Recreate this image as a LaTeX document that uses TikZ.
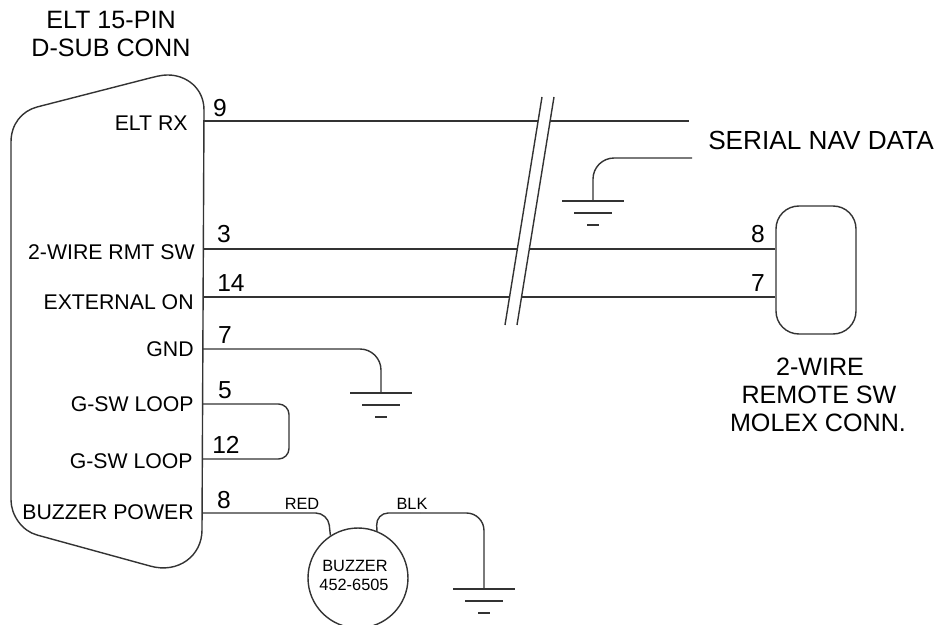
\documentclass[tikz,border=0pt]{standalone}
\usepackage{fontspec}
\setmainfont{Liberation Sans}
\usepackage{tikz}
\usetikzlibrary{calc}
\definecolor{trait}{HTML}{333333}
\tikzset{wire/.style={
    draw=trait,
    line width=0.8pt}}
\tikzset{bentwire/.style={
    wire,
    rounded corners=12pt}}
\tikzset{pinname/.style={
    anchor=east,
    inner sep=0pt,
    font=\fontsize{12.1}{14}\selectfont}}
\tikzset{pinnum/.style={
    inner sep=0pt,
    font=\fontsize{14}{16}\selectfont}}
\tikzset{title/.style={
    inner sep=0pt,
    font=\fontsize{14.3}{16}\selectfont}}
\tikzset{small/.style={
    inner sep=0pt,
    font=\fontsize{9.3}{11}\selectfont}}
\newcommand{\groundsym}[1]{
  \draw[wire] ($(#1)+(-31,0)$) -- ($(#1)+(31,0)$);
  \draw[wire] ($(#1)+(-19,12)$) -- ($(#1)+(19,12)$);
  \draw[wire] ($(#1)+(-6,24)$) -- ($(#1)+(6,24)$);
}

\begin{document}
\begin{tikzpicture}[x=0.02cm,y=-0.02cm]
\useasboundingbox (0,0) rectangle (938,625);
\coordinate (P9) at (204,121);
\coordinate (P3) at (204,249);
\coordinate (P14) at (204,297);
\coordinate (P7) at (203,349);
\coordinate (P5) at (203,404);
\coordinate (P12) at (203,459);
\coordinate (P8) at (203,513);
\coordinate (E1) at (689,121);
\coordinate (E2) at (692,158);
\coordinate (G1) at (593,201);
\coordinate (G2) at (381,393);
\coordinate (G3) at (484,589);

% connector shell
\draw[wire] (204,110) .. controls (204,88) and (186,75) .. (168,75)
  .. controls (160,75) and (155,77) .. (150,78)
  -- (37,107) .. controls (22,111) and (11,124) .. (11,142)
  -- (11,500) .. controls (11,515) and (22,531) .. (37,535)
  -- (150,566) .. controls (178,574) and (202,556) .. (202,530) -- cycle;

\node[draw=trait,line width=0.8pt,rounded corners=13pt,minimum width=1.6cm,minimum height=2.56cm] (molex) at (816,270) {};
\node[draw=trait,line width=0.8pt,circle,minimum size=2cm,inner sep=0pt] (buzzer) at (358,578) {};

\draw[wire] (P9) -- (E1);
\draw[bentwire] (E2) -- (593,158) -- (G1);
\draw[wire] (P3) -- (molex.west |- P3);
\draw[wire] (P14) -- (molex.west |- P14);
\draw[bentwire] (P7) -- (381,349) -- (G2);
\draw[wire,rounded corners=6pt] (P5) -- (289,404) -- (289,459) -- (P12);
\draw[wire,rounded corners=7pt] (P8) -- (328,513) -- (buzzer.123.5);
\draw[wire,rounded corners=7pt] (buzzer.68) -- (376,513) -- (420,513);
\draw[wire,rounded corners=10pt] (420,513) -- (484,513) -- (G3);
\groundsym{G1}
\groundsym{G2}
\groundsym{G3}

% break in the cable
\coordinate (Sa) at (542,97);
\coordinate (Sb) at (505,325);
\coordinate (Sc) at (554,97);
\coordinate (Sd) at (517,325);
\path[fill=white] (Sa) -- (Sc) -- (Sd) -- (Sb) -- cycle;
\draw[wire] (Sa) -- (Sb);
\draw[wire] (Sc) -- (Sd);

\node[title] (lelt) at (111,20) {ELT 15-PIN};
\node[title] (ldsub) at (111,48) {D-SUB CONN};
\node[title,font=\fontsize{14.9}{16}\selectfont] (lnav) at (821,140) {SERIAL NAV DATA};
\node[title] (lwire) at (820,367) {2-WIRE};
\node[title] (lremote) at (819,395) {REMOTE SW};
\node[title] (lmolex) at (818,423) {MOLEX CONN.};

\node[pinname] (lrx) at (188,123) {ELT RX};
\node[pinname] (lrmt) at (195,252) {2-WIRE RMT SW};
\node[pinname] (lon) at (194,302) {EXTERNAL ON};
\node[pinname] (lgnd) at (194,349) {GND};
\node[pinname] (lloopa) at (194,404) {G-SW LOOP};
\node[pinname] (lloopb) at (193,461) {G-SW LOOP};
\node[pinname] (lpower) at (194,512) {BUZZER POWER};

\node[pinnum] (n9) at (220,108) {9};
\node[pinnum] (n3) at (224,234) {3};
\node[pinnum] (n14) at (231,283) {14};
\node[pinnum] (n7) at (225,335) {7};
\node[pinnum] (n5) at (225,390) {5};
\node[pinnum] (n12) at (226,445) {12};
\node[pinnum] (n8) at (224,500) {8};
\node[pinnum] (m8) at (758,234) {8};
\node[pinnum] (m7) at (758,283) {7};

\node[small] (lred) at (302,504) {RED};
\node[small] (lblk) at (412,504) {BLK};
\node[small] (lbuzz) at (355,566) {BUZZER};
\node[small] (lpart) at (354,585) {452-6505};
\end{tikzpicture}
\end{document}
